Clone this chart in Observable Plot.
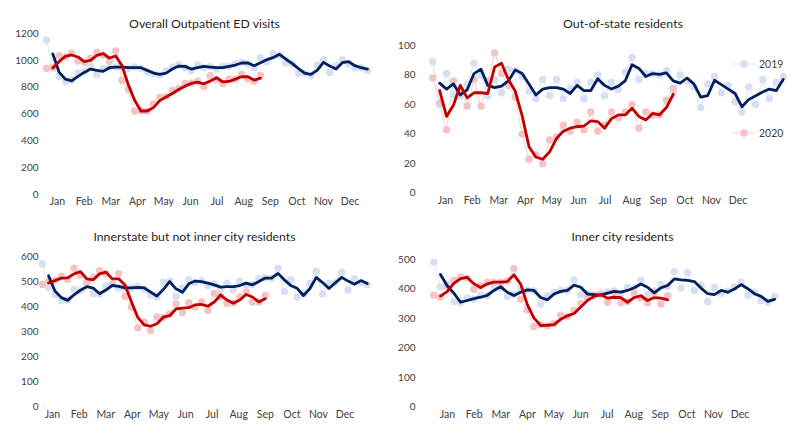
<!DOCTYPE html>
<html><head><meta charset="utf-8">
<script src="https://cdn.jsdelivr.net/npm/d3@7"></script>
<script src="https://cdn.jsdelivr.net/npm/@observablehq/plot@0.6"></script>
<style>
html,body{margin:0;padding:0;background:#fff;}
#root{position:relative;width:796px;height:439px;overflow:hidden;font-family:Lato,"Open Sans",sans-serif;}
.panel{position:absolute;}
.title{position:absolute;width:400px;text-align:center;font-size:12.3px;line-height:16px;color:#1f1f1f;white-space:nowrap;}
.legend{position:absolute;display:flex;align-items:center;font-size:10.5px;color:#404040;line-height:12px;}
</style></head><body><div id="root"></div>
<script>
const months = ["Jan","Feb","Mar","Apr","May","Jun","Jul","Aug","Sep","Oct","Nov","Dec"];
const seriesNames = ["2019","2020"];

// Weekly values, Overall Outpatient ED visits
const overall2019 = [1150,945,880,840,855,905,915,955,895,940,950,950,950,940,950,940,910,900,890,920,950,965,945,925,965,945,955,935,955,955,975,985,975,945,1020,990,1050,1040,980,975,905,905,885,965,1005,910,960,1005,975,945,945,925];
const overall2020 = [940,945,1035,1025,1055,995,985,1015,1060,1040,995,1070,850,785,620,625,620,675,725,730,775,790,825,830,845,805,885,855,825,860,860,895,860,845,890];

// Out-of-state residents
const outState2019 = [89,60,81,67,66,74,88,80,66,77,68,84,83,79,69,64,77,66,77,64,71,75,64,75,80,66,75,70,82,92,77,81,81,80,83,69,80,76,72,58,74,79,68,73,62,55,72,60,77,64,75,79];
const outState2020 = [78,61,43,76,70,59,77,59,76,95,81,73,65,40,23,26,20,36,38,46,42,48,43,55,42,46,55,51,55,60,44,55,53,53,63,71];

// Innerstate but not inner city residents
const innerstate2019 = [573,478,450,425,428,470,465,498,454,452,484,490,476,478,476,482,472,448,440,500,504,442,476,510,498,506,486,492,468,496,468,504,488,490,514,518,514,556,462,510,440,452,494,544,452,496,498,540,468,514,498,490];
const innerstate2020 = [490,504,508,524,510,556,528,498,520,546,534,492,534,442,400,316,340,305,360,358,372,412,378,416,400,420,386,454,442,414,416,440,460,420,420,446];

// Inner city residents
const innerCity2019 = [492,408,416,358,354,370,366,380,378,414,404,376,382,398,398,394,350,378,390,396,396,432,382,386,378,382,392,394,386,406,404,432,382,394,416,410,460,404,456,396,412,358,406,386,394,408,424,380,390,362,356,376];
const innerCity2020 = [380,374,410,430,442,438,400,412,424,424,424,428,470,366,330,274,280,276,284,312,308,328,352,372,380,384,356,390,354,358,386,370,354,390,350,378];

const titles = ["Overall Outpatient ED visits","Out-of-state residents","Innerstate but not inner city residents","Inner city residents"];
const yMaxes = [1200, 100, 600, 500];
const yTickCounts = [6, 5, 6, 5];

const C = {light19:"#d6e0f2", light20:"#f6c3c3", dark19:"#002060", dark20:"#c00000", text:"#404040"};

// layout (pixels)
const layout = [
  {box:{left:0,top:0,w:398,h:219}, x0:46, x1:367, yTop:33, yBottom:194, tickRight:38, titleX:204.5, titleY:24, monthX0:57, monthY:204},
  {box:{left:398,top:0,w:398,h:219}, x0:432.3, x1:782.7, yTop:45, yBottom:192.7, tickRight:415, titleX:623, titleY:23.5, monthX0:445, monthY:203},
  {box:{left:0,top:219,w:398,h:220}, x0:41.7, x1:366.7, yTop:256.7, yBottom:406, tickRight:38, titleX:194.5, titleY:236.5, monthX0:52, monthY:417},
  {box:{left:398,top:219,w:398,h:220}, x0:433.3, x1:774, yTop:259.3, yBottom:406.7, tickRight:415, titleX:622.5, titleY:236.5, monthX0:447, monthY:417}
];
const MONTH_STEP = 26.6;
const data = [[overall2019, overall2020],[outState2019, outState2020],[innerstate2019, innerstate2020],[innerCity2019, innerCity2020]];

const root = document.getElementById("root");
const ma = {k:2, anchor:"end", strict:true,
  reduce: v => (v.length < 2 || v.some(x => x == null || isNaN(x))) ? NaN : d3.mean(v)};

layout.forEach((L, p) => {
  const {box, x0, x1, yTop, yBottom} = L;
  const ml = x0 - box.left, mr = box.left + box.w - x1, mt = yTop - box.top, mb = box.top + box.h - yBottom;
  const nWeeks = data[p][0].length - 1;
  const dx = (x1 - x0) / nWeeks;
  const d19 = data[p][0].map((v,i) => ({week:i, value:v}));
  const d20 = data[p][1].map((v,i) => ({week:i, value:v}));
  const chart = Plot.plot({
    width: box.w, height: box.h,
    marginLeft: ml, marginRight: mr, marginTop: mt, marginBottom: mb,
    style: {fontFamily:"Lato, 'Open Sans', sans-serif", fontSize:"10px", color:C.text, background:"transparent", overflow:"visible"},
    x: {domain:[0, nWeeks], axis:null},
    y: {domain:[0, yMaxes[p]], ticks: yTickCounts[p], tickSize:0, tickPadding: x0 - L.tickRight, tickFormat: d3.format("d"), label:null},
    marks: [
      Plot.line(d19, {x:"week", y:"value", stroke:C.light19, strokeWidth:0.8}),
      Plot.line(d20, {x:"week", y:"value", stroke:C.light20, strokeWidth:0.8}),
      Plot.dot(d19, {x:"week", y:"value", r:3.7, fill:C.light19}),
      Plot.dot(d20, {x:"week", y:"value", r:3.7, fill:C.light20}),
      Plot.line(d19, Plot.windowY(ma, {x:"week", y:"value", stroke:C.dark19, strokeWidth:2.8, strokeLinejoin:"round", strokeLinecap:"round"})),
      Plot.line(d20, Plot.windowY(ma, {x:"week", y:"value", stroke:C.dark20, strokeWidth:2.8, strokeLinejoin:"round", strokeLinecap:"round"})),
      Plot.text(months, {x:(d,i) => (L.monthX0 + i*MONTH_STEP - x0)/dx, frameAnchor:"bottom", dy: L.monthY - yBottom, text:d => d, fontSize:10.5, fill:C.text})
    ]
  });
  const div = document.createElement("div");
  div.className = "panel";
  div.style.left = box.left + "px"; div.style.top = box.top + "px";
  div.appendChild(chart);
  root.appendChild(div);
  const t = document.createElement("div");
  t.className = "title";
  t.textContent = titles[p];
  t.style.left = (L.titleX - 200) + "px";
  t.style.top = (L.titleY - 8) + "px";
  root.appendChild(t);
});

// legend in the out-of-state panel
const legendItems = [{name:seriesNames[0], color:C.light19, y:63.7},{name:seriesNames[1], color:C.light20, y:133}];
legendItems.forEach(it => {
  const el = document.createElement("div");
  el.className = "legend";
  el.style.left = "732px";
  el.style.top = (it.y - 6) + "px";
  el.innerHTML = `<svg width="24" height="12" style="margin-right:3px"><line x1="0" x2="24" y1="6" y2="6" stroke="${it.color}" stroke-width="0.8"/><circle cx="12" cy="6" r="3.7" fill="${it.color}"/></svg><span>${it.name}</span>`;
  root.appendChild(el);
});
</script></body></html>
